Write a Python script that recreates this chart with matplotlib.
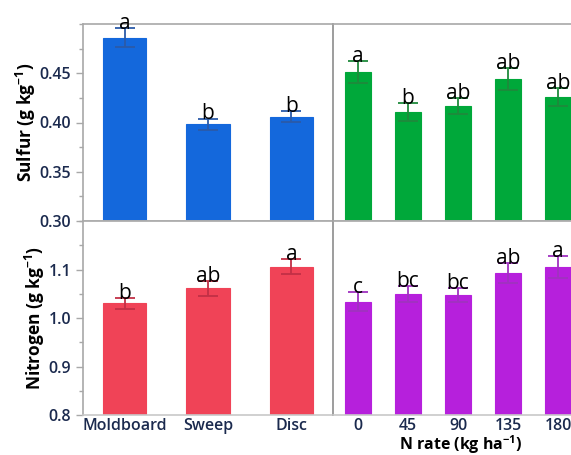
import matplotlib.pyplot as plt
from matplotlib.ticker import MultipleLocator


tillage = ['Moldboard', 'Sweep', 'Disc']
n_rate = ['0', '45', '90', '135', '180']

s_till = [0.486, 0.398, 0.406]
s_till_se = [0.0095, 0.006, 0.0055]
s_till_let = ['a', 'b', 'b']

s_n = [0.451, 0.411, 0.417, 0.444, 0.426]
s_n_se = [0.011, 0.009, 0.008, 0.011, 0.009]
s_n_let = ['a', 'b', 'ab', 'ab', 'ab']

n_till = [1.030, 1.061, 1.106]
n_till_se = [0.011, 0.015, 0.016]
n_till_let = ['b', 'ab', 'a']

n_n = [1.034, 1.049, 1.047, 1.093, 1.105]
n_n_se = [0.02, 0.016, 0.015, 0.02, 0.022]
n_n_let = ['c', 'bc', 'bc', 'ab', 'a']

tick_col = '#1b2a4e'
spine_col = '#a8a8a8'

plt.rcParams['font.family'] = ['Open Sans', 'DejaVu Sans']
plt.rcParams['mathtext.fontset'] = 'custom'
plt.rcParams['mathtext.rm'] = 'Open Sans:bold'
plt.rcParams['mathtext.default'] = 'rm'

fig = plt.figure(figsize=(5.71, 4.55), dpi=100)

W, H = 571, 455


def make_ax(x0, y0, x1, y1):
    return fig.add_axes([x0 / W, 1 - y1 / H, (x1 - x0) / W, (y1 - y0) / H])


ax_st = make_ax(83, 24, 333, 221)
ax_sn = make_ax(333, 24, 583, 221)
ax_nt = make_ax(83, 221, 333, 415)
ax_nn = make_ax(333, 221, 583, 415)


def draw(ax, vals, se, lets, color, ecolor, ylim):
    x = range(len(vals))
    ax.bar(x, vals, width=0.52, color=color, edgecolor=color, linewidth=0.8, zorder=2)
    ax.errorbar(x, vals, yerr=se, fmt='none', ecolor=ecolor, elinewidth=1.3,
                capsize=7, capthick=1.3, zorder=3)
    for i, (v, e, l) in enumerate(zip(vals, se, lets)):
        ax.text(i, v + e - (ylim[1] - ylim[0]) * 0.004, l, ha='center', va='baseline',
                fontsize=15, color='black', zorder=4)
    ax.set_xlim(-0.5, len(vals) - 0.5)
    ax.set_ylim(*ylim)
    for s in ax.spines.values():
        s.set_color(spine_col)
        s.set_linewidth(1.2)
    ax.spines['right'].set_visible(False)
    ax.spines['bottom'].set_color('#c8c8c8')
    ax.tick_params(axis='both', colors=spine_col, labelcolor=tick_col,
                   labelsize=11.5, length=5, width=1)
    ax.tick_params(axis='y', which='minor', colors=spine_col, length=3, width=1)


draw(ax_st, s_till, s_till_se, s_till_let, '#1468dc', '#2b5aa8', (0.30, 0.50))
draw(ax_sn, s_n, s_n_se, s_n_let, '#00a83a', '#1f8a3c', (0.30, 0.50))
draw(ax_nt, n_till, n_till_se, n_till_let, '#f04357', '#c23046', (0.8, 1.2))
draw(ax_nn, n_n, n_n_se, n_n_let, '#b620dc', '#a032c0', (0.8, 1.2))

ax_st.set_yticks([0.30, 0.35, 0.40, 0.45])
ax_st.set_yticklabels(['0.30', '0.35', '0.40', '0.45'], fontweight='semibold')
ax_st.yaxis.set_minor_locator(MultipleLocator(0.025))
ax_nt.set_yticks([0.8, 0.9, 1.0, 1.1])
ax_nt.set_yticklabels(['0.8', '0.9', '1.0', '1.1'], fontweight='semibold')
ax_nt.yaxis.set_minor_locator(MultipleLocator(0.05))

for ax in (ax_sn, ax_nn):
    ax.set_yticks([])
    ax.spines['left'].set_color('#8c8c8c')

for ax in (ax_st, ax_sn):
    ax.set_xticks([])

ax_nt.set_xticks(range(len(tillage)))
ax_nt.set_xticklabels(tillage, fontweight='semibold', fontsize=11.5)
ax_nn.set_xticks(range(len(n_rate)))
ax_nn.set_xticklabels(n_rate, fontweight='semibold', fontsize=11.5)
for ax in (ax_nt, ax_nn):
    ax.tick_params(axis='x', length=0, pad=2)

ax_st.set_ylabel('Sulfur (g kg$^{-1}$)', fontsize=12.5, fontweight='bold', labelpad=1)
ax_nt.set_ylabel('Nitrogen (g kg$^{-1}$)', fontsize=12.5, fontweight='bold', labelpad=1)
fig.text(461 / W, 1 - 444.5 / H, 'N rate (kg ha$^{-1}$)', ha='center', va='center',
         fontsize=11.5, fontweight='bold')

fig.savefig('out.png', dpi=100)
